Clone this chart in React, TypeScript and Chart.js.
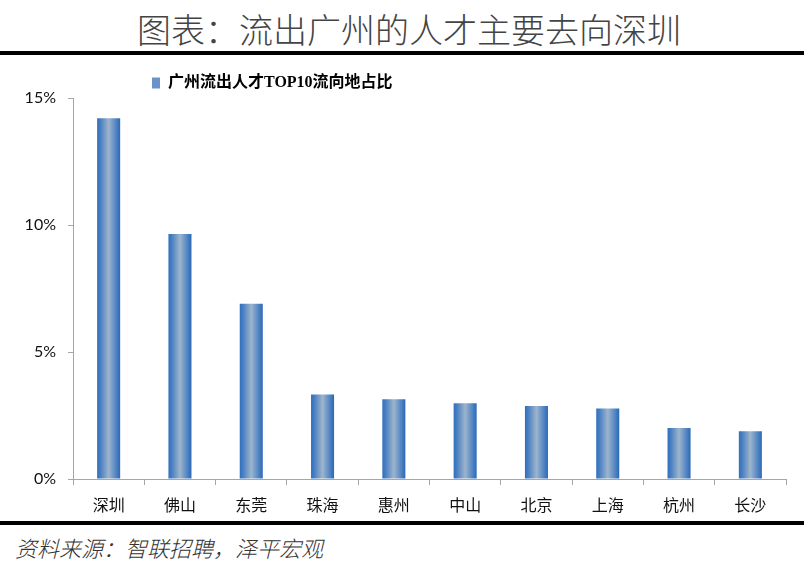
import React, { useEffect, useRef } from "react";
import { Chart, registerables } from "chart.js";

Chart.register(...registerables);

const pageTitle = "图表：流出广州的人才主要去向深圳";
const sourceNote = "资料来源：智联招聘，泽平宏观";
const seriesName = "广州流出人才TOP10流向地占比";
const categories = ["深圳", "佛山", "东莞", "珠海", "惠州", "中山", "北京", "上海", "杭州", "长沙"];
const shares = [14.2, 9.65, 6.9, 3.33, 3.14, 2.98, 2.87, 2.78, 2.01, 1.88];
const yMax = 15;
const yStep = 5;

const BAR_PCT = 0.323;

export default function App() {
  const canvasRef = useRef<HTMLCanvasElement | null>(null);

  useEffect(() => {
    document.body.style.margin = "0";
    const canvas = canvasRef.current;
    if (!canvas) return;

    const legendShift = {
      id: "legendShift",
      afterLayout(chart: any) {
        const l = chart.legend;
        if (!l) return;
        const w = l.right - l.left;
        const pad = l.options.labels.padding;
        l.left = 152 - pad;
        l.right = l.left + w;
        l.top += 3;
        l.bottom += 3;
      },
    };

    const chart = new Chart(canvas, {
      type: "bar",
      data: {
        labels: categories,
        datasets: [
          {
            label: seriesName,
            data: shares,
            barPercentage: BAR_PCT,
            categoryPercentage: 1,
            backgroundColor: (ctx: any) => {
              const ch = ctx.chart;
              const xs = ch.scales?.x;
              if (!xs || ctx.type !== "data" || !xs.width) return "#5b8cc8";
              const cx = xs.getPixelForValue(ctx.dataIndex);
              const w = (xs.width / categories.length) * BAR_PCT;
              const g = ch.ctx.createLinearGradient(cx - w / 2, 0, cx + w / 2, 0);
              g.addColorStop(0, "#2f6fbd");
              g.addColorStop(0.15, "#4a80c2");
              g.addColorStop(0.5, "#9db5cc");
              g.addColorStop(0.85, "#4a80c2");
              g.addColorStop(1, "#2b68b5");
              return g;
            },
            borderWidth: 0,
          },
        ],
      },
      options: {
        responsive: false,
        animation: false,
        maintainAspectRatio: false,
        layout: { padding: { left: 0, right: 18, top: 10, bottom: 0 } },
        plugins: {
          tooltip: { enabled: false },
          legend: {
            display: true,
            position: "top",
            align: "start",
            labels: {
              boxWidth: 8,
              boxHeight: 11,
              padding: 6,
              color: "#000",
              font: { family: "'Liberation Serif', 'Noto Sans CJK SC'", size: 16, weight: "bold" },
              generateLabels: () => [
                {
                  text: seriesName,
                  fillStyle: "#6a94c8",
                  strokeStyle: "#6a94c8",
                  lineWidth: 0,
                  hidden: false,
                  datasetIndex: 0,
                },
              ],
            },
          },
        },
        scales: {
          x: {
            grid: { display: true, drawOnChartArea: false, drawTicks: true, tickLength: 6, offset: true, color: "#a6a6a6" },
            border: { display: true, color: "#a6a6a6", width: 1 },
            ticks: {
              color: "#111",
              padding: 10,
              font: { family: "'Noto Sans CJK SC'", size: 16, weight: "normal" },
            },
            afterFit: (scale: any) => {
              scale.height = 42;
            },
          },
          y: {
            min: 0,
            max: yMax,
            grid: { display: true, drawOnChartArea: false, drawTicks: true, tickLength: 5, color: "#a6a6a6" },
            border: { display: true, color: "#a6a6a6", width: 1 },
            ticks: {
              stepSize: yStep,
              color: "#111",
              padding: 12,
              font: { family: "Lato, 'Liberation Sans'", size: 16 },
              callback: (v: any) => v + "%",
            },
            afterFit: (scale: any) => {
              scale.width = 73;
            },
          },
        },
      },
      plugins: [legendShift],
    });

    return () => chart.destroy();
  }, []);

  return (
    <div style={{ position: "relative", width: 804, height: 582, background: "#fff", overflow: "hidden" }}>
      <div
        style={{
          position: "absolute",
          top: 9,
          left: 7,
          width: 804,
          textAlign: "center",
          fontFamily: "'Noto Sans CJK SC'",
          fontWeight: 200,
          fontSize: 34,
          lineHeight: "40px",
          color: "#444",
          whiteSpace: "nowrap",
        }}
      >
        {pageTitle}
      </div>
      <div style={{ position: "absolute", top: 51, left: 0, width: 804, height: 4, background: "#000" }} />
      <div style={{ position: "absolute", top: 56, left: 0, width: 804, height: 465 }}>
        <canvas ref={canvasRef} width={804} height={465} style={{ width: 804, height: 465, display: "block" }} />
      </div>
      <div style={{ position: "absolute", top: 521, left: 0, width: 804, height: 4, background: "#000" }} />
      <div
        style={{
          position: "absolute",
          top: 534,
          left: 15,
          fontFamily: "'Noto Sans CJK SC'",
          fontWeight: 200,
          fontStyle: "italic",
          fontSize: 22,
          lineHeight: "26px",
          color: "#333",
          whiteSpace: "nowrap",
        }}
      >
        {sourceNote}
      </div>
    </div>
  );
}
